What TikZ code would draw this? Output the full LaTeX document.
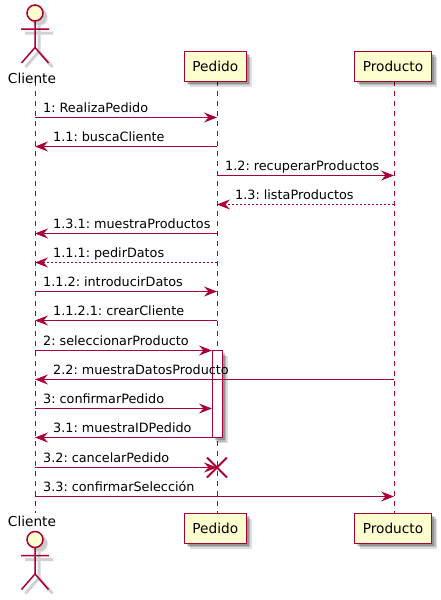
\documentclass[tikz,border=0pt]{standalone}
\usepackage{fontspec}
\setmainfont[WordSpace=0.65]{DejaVu Sans}
\usepackage{xcolor}
\usetikzlibrary{arrows.meta, shadows}
\definecolor{umlline}{HTML}{A80036}
\definecolor{umlfill}{HTML}{FEFECE}

% stick figure, #1 = x of the body, #2 = y of the top of the head
\newcommand{\drawactor}[2]{
  \fill[black!10] (#1+4,#2+12) circle (9);
  \fill[black!20] (#1+4,#2+12) circle (8);
  \draw[black!18, line width=3pt] (#1+4,#2+20) -- (#1+4,#2+46.5)
    (#1-10,#2+28) -- (#1+18,#2+28)
    (#1-9.5,#2+62) -- (#1+4,#2+46.5) -- (#1+17.5,#2+62);
  \draw[umlline, fill=umlfill, line width=1.5pt] (#1,#2+8) circle (8);
  \draw[umlline, line width=1.5pt] (#1,#2+16) -- (#1,#2+42.5)
    (#1-14,#2+24) -- (#1+14,#2+24)
    (#1-13.5,#2+58) -- (#1,#2+42.5) -- (#1+13.5,#2+58);
}

\begin{document}
\begin{tikzpicture}[x=1pt, y=-1pt,
    softshadow/.style={
      general shadow={shadow xshift=5.5pt, shadow yshift=-5.5pt, draw=none, fill=black, opacity=.13},
      general shadow={shadow xshift=4pt, shadow yshift=-4pt, draw=none, fill=black, opacity=.17},
      general shadow={shadow xshift=2.5pt, shadow yshift=-2.5pt, draw=none, fill=black, opacity=.2}},
    box/.style={rectangle, draw=umlline, fill=umlfill, line width=1pt, minimum height=30pt, inner sep=0pt, font=\fontsize{13.7}{16}\selectfont, softshadow},
    actorname/.style={inner sep=0pt, font=\fontsize{13.7}{16}\selectfont},
    lbl/.style={anchor=base west, inner sep=0pt, font=\fontsize{12.8}{15}\selectfont},
    arrow/.style={-{Stealth[length=13pt, width=10pt, inset=4.5pt]}, umlline, line width=1pt},
    reply/.style={arrow, dash pattern=on 2pt off 2pt},
    lifeline/.style={umlline, line width=1pt, dash pattern=on 5pt off 5pt},
    activation/.style={rectangle, draw=umlline, fill=white, line width=1pt, minimum width=10pt, minimum height=87pt, inner sep=0pt, softshadow},
    cross/.style={umlline, line width=2pt}
]
\useasboundingbox (0,0) rectangle (441,600);

% rows of the three lifelines
\foreach \row/\yy in {top/81, a/117.5, b/146.5, c/175.5, d/204.5, e/233.5, f/262.5, g/291.5, h/320.5, i/350.5, j/379.5, k/408.5, l/437.5, m/467.5, n/496.5, bot/513} {
  \coordinate (cli\row) at (35,\yy);
  \coordinate (ped\row) at (217,\yy);
  \coordinate (pro\row) at (394,\yy);
}
\coordinate (actend2) at (212,350.5);
\coordinate (actend3) at (212,408.5);
\coordinate (actstart) at (212,437.5);
\coordinate (crossA) at (207,457.5);
\coordinate (crossB) at (227,477.5);
\coordinate (crossC) at (227,457.5);
\coordinate (crossD) at (207,477.5);

\draw[lifeline] (clitop) -- (clibot);
\draw[lifeline] (pedtop) -- (pedbot);
\draw[lifeline] (protop) -- (probot);

\drawactor{35}{5}
\node[actorname] (clienteT) at (32,78) {Cliente};
\node[box, minimum width=62pt] (pedidoT) at (215.3,66) {Pedido};
\node[box, minimum width=77pt] (productoT) at (393,66) {Producto};

\drawactor{35}{531.5}
\node[actorname] (clienteB) at (32,521) {Cliente};
\node[box, minimum width=62pt] (pedidoB) at (215.3,528) {Pedido};
\node[box, minimum width=77pt] (productoB) at (393,528) {Producto};

\node[activation] (act) at (217,394) {};

\draw[arrow] (clia) -- (peda);
\draw[arrow] (pedb) -- (clib);
\draw[arrow] (pedc) -- (proc);
\draw[reply] (prod) -- (pedd);
\draw[arrow] (pede) -- (clie);
\draw[reply] (pedf) -- (clif);
\draw[arrow] (clig) -- (pedg);
\draw[arrow] (pedh) -- (clih);
\draw[arrow] (clii) -- (actend2);
\draw[arrow] (proj) -- (clij);
\draw[arrow] (clik) -- (actend3);
\draw[arrow] (actstart) -- (clil);
\draw[arrow] (clim) -- (pedm);
\draw[arrow] (clin) -- (pron);

\draw[cross] (crossA) -- (crossB);
\draw[cross] (crossC) -- (crossD);

\node[lbl] (m1) at (43,112) {1: RealizaPedido};
\node[lbl] (m2) at (53,141) {1.1: buscaCliente};
\node[lbl] (m3) at (225,170) {1.2: recuperarProductos};
\node[lbl] (m4) at (235,199) {1.3: listaProductos};
\node[lbl] (m5) at (53,228) {1.3.1: muestraProductos};
\node[lbl] (m6) at (53,257) {1.1.1: pedirDatos};
\node[lbl] (m7) at (43,286) {1.1.2: introducirDatos};
\node[lbl] (m8) at (53,315) {1.1.2.1: crearCliente};
\node[lbl] (m9) at (43,345) {2: seleccionarProducto};
\node[lbl] (m10) at (53,374) {2.2: muestraDatosProducto};
\node[lbl] (m11) at (43,403) {3: confirmarPedido};
\node[lbl] (m12) at (53,432) {3.1: muestraIDPedido};
\node[lbl] (m13) at (43,462) {3.2: cancelarPedido};
\node[lbl] (m14) at (43,491) {3.3: confirmarSelección};

\end{tikzpicture}
\end{document}
